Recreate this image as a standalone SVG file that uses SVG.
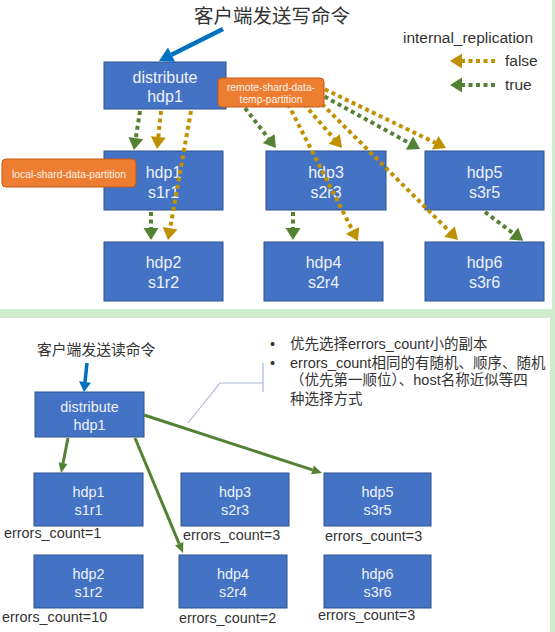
<svg xmlns="http://www.w3.org/2000/svg" width="555" height="632" viewBox="0 0 555 632">
<style>
.node rect{fill:#4472c4;stroke:#2f528f;stroke-width:1}
.node text{fill:#eef2fa;font-family:"Liberation Sans",Arial,sans-serif;text-anchor:middle}
.top text{font-size:16px}
.bot text{font-size:14.4px}
.dot{fill:none;stroke-width:4;stroke-dasharray:4 3.5}
.gold{stroke:#bf9000;marker-end:url(#hGold)}
.green{stroke:#548235;marker-end:url(#hGreen)}
.solid{fill:none;stroke:#548235;stroke-width:3;marker-end:url(#hSolid)}
.tag rect{fill:#ed7d31;stroke:#c55a11;stroke-width:1}
.tag text{fill:#fff3ea;font-family:"Liberation Sans",Arial,sans-serif;font-size:10.3px;text-anchor:middle}
.lbl{font-family:"Liberation Sans","Noto Sans CJK SC",sans-serif;fill:#333333}
.err{font-family:"Liberation Sans",Arial,sans-serif;font-size:14.4px;fill:#333333}
</style>
<defs>
<marker id="hGold" markerUnits="userSpaceOnUse" markerWidth="16" markerHeight="16" refX="0" refY="7.5" orient="auto" overflow="visible"><path d="M0,0 L12,7.5 L0,15 z" fill="#bf9000"/></marker>
<marker id="hGreen" markerUnits="userSpaceOnUse" markerWidth="16" markerHeight="16" refX="0" refY="7.5" orient="auto" overflow="visible"><path d="M0,0 L12,7.5 L0,15 z" fill="#548235"/></marker>
<marker id="hSolid" markerUnits="userSpaceOnUse" markerWidth="12" markerHeight="12" refX="0" refY="4.5" orient="auto" overflow="visible"><path d="M0,0 L10,4.5 L0,9 z" fill="#548235"/></marker>
<marker id="hBlue" markerUnits="userSpaceOnUse" markerWidth="16" markerHeight="16" refX="0" refY="8" orient="auto" overflow="visible"><path d="M0,0 L14,8 L0,16 z" fill="#0070c0"/></marker>
<marker id="hBlue2" markerUnits="userSpaceOnUse" markerWidth="12" markerHeight="12" refX="0" refY="6" orient="auto" overflow="visible"><path d="M0,0 L10,6 L0,12 z" fill="#0070c0"/></marker>
</defs>

<rect x="0" y="0" width="555" height="632" fill="#cfeccf"/>
<rect x="0" y="0" width="552" height="309" fill="#ffffff"/>
<rect x="0" y="318" width="550" height="314" fill="#ffffff"/>

<!-- top section texts -->
<text class="lbl" x="194" y="22.5" font-size="19.5">客户端发送写命令</text>
<g id="legend">
<text class="lbl" x="403" y="43" font-size="15.5">internal_replication</text>
<text class="lbl" x="505" y="66" font-size="15.5">false</text>
<text class="lbl" x="505" y="90" font-size="15.5">true</text>
<line class="dot gold" x1="495" y1="61" x2="462" y2="61"/>
<line class="dot green" x1="495" y1="85" x2="462" y2="85"/>
</g>

<!-- top nodes -->
<g id="w_distribute" class="node top"><rect x="104" y="62" width="122" height="47"/><text x="165" y="82.5">distribute</text><text x="165" y="101.5">hdp1</text></g>
<g id="w_hdp1" class="node top"><rect x="104" y="151" width="119" height="59"/><text x="163.5" y="177.5">hdp1</text><text x="163.5" y="197.5">s1r1</text></g>
<g id="w_hdp2" class="node top"><rect x="104" y="242" width="119" height="59"/><text x="163.5" y="267.5">hdp2</text><text x="163.5" y="287.5">s1r2</text></g>
<g id="w_hdp3" class="node top"><rect x="266" y="151" width="120" height="59"/><text x="326" y="177.5">hdp3</text><text x="326" y="197.5">s2r3</text></g>
<g id="w_hdp4" class="node top"><rect x="264" y="242" width="119" height="59"/><text x="323.5" y="267.5">hdp4</text><text x="323.5" y="287.5">s2r4</text></g>
<g id="w_hdp5" class="node top"><rect x="425" y="151" width="119" height="59"/><text x="484.5" y="177.5">hdp5</text><text x="484.5" y="197.5">s3r5</text></g>
<g id="w_hdp6" class="node top"><rect x="425" y="242" width="119" height="59"/><text x="484.5" y="267.5">hdp6</text><text x="484.5" y="287.5">s3r6</text></g>

<!-- bottom nodes -->
<text class="lbl" x="37" y="354.6" font-size="14.8">客户端发送读命令</text>
<g id="r_distribute" class="node bot"><rect x="35" y="392" width="109" height="45"/><text x="89.5" y="412">distribute</text><text x="89.5" y="430">hdp1</text></g>
<g id="r_hdp1" class="node bot"><rect x="34" y="473" width="109" height="53"/><text x="88.5" y="497">hdp1</text><text x="88.5" y="515">s1r1</text></g>
<g id="r_hdp2" class="node bot"><rect x="34" y="555" width="109" height="53"/><text x="88.5" y="579">hdp2</text><text x="88.5" y="597">s1r2</text></g>
<g id="r_hdp3" class="node bot"><rect x="181" y="473" width="108" height="53"/><text x="235" y="497">hdp3</text><text x="235" y="515">s2r3</text></g>
<g id="r_hdp4" class="node bot"><rect x="179" y="555" width="108" height="53"/><text x="233" y="579">hdp4</text><text x="233" y="597">s2r4</text></g>
<g id="r_hdp5" class="node bot"><rect x="324" y="473" width="107" height="53"/><text x="377.5" y="497">hdp5</text><text x="377.5" y="515">s3r5</text></g>
<g id="r_hdp6" class="node bot"><rect x="324" y="555" width="107" height="53"/><text x="377.5" y="579">hdp6</text><text x="377.5" y="597">s3r6</text></g>

<g id="errors">
<text class="err" x="4" y="538">errors_count=1</text>
<text class="err" x="183" y="540">errors_count=3</text>
<text class="err" x="325" y="541">errors_count=3</text>
<text class="err" x="2" y="622">errors_count=10</text>
<text class="err" x="179" y="623">errors_count=2</text>
<text class="err" x="318" y="620">errors_count=3</text>
</g>

<!-- connectors -->
<g id="connectors">
<line x1="223" y1="29" x2="171.5" y2="54.7" stroke="#0070c0" stroke-width="4.5" marker-end="url(#hBlue)"/>
<line class="dot green" x1="140" y1="111" x2="135.8" y2="138.1"/>
<line class="dot gold" x1="161" y1="111" x2="158.3" y2="137.1"/>
<line class="dot gold" x1="191" y1="111" x2="170.1" y2="228.2"/>
<line class="dot green" x1="151" y1="212" x2="151" y2="228"/>
<line class="dot green" x1="245" y1="108" x2="268.6" y2="138.5"/>
<line class="dot gold" x1="288" y1="104" x2="352.5" y2="230.3"/>
<line class="dot gold" x1="304" y1="104" x2="334.2" y2="138.9"/>
<line class="dot gold" x1="322" y1="104" x2="449.5" y2="231.5"/>
<line class="dot green" x1="318" y1="93" x2="409.5" y2="143.2"/>
<line class="dot gold" x1="318" y1="86" x2="435.2" y2="142.8"/>
<line class="dot green" x1="293" y1="212" x2="293" y2="228"/>
<line class="dot green" x1="485" y1="212" x2="513.6" y2="233.6"/>

<line x1="87" y1="363" x2="85" y2="382" stroke="#0070c0" stroke-width="3.5" marker-end="url(#hBlue2)"/>
<line class="solid" x1="68" y1="438" x2="63" y2="463.2"/>
<line class="solid" x1="135" y1="438" x2="179.2" y2="543.8"/>
<line class="solid" x1="144" y1="415" x2="312.5" y2="469.9"/>
</g>

<!-- orange tags -->
<g id="tag_remote" class="tag"><rect x="218" y="78" width="106" height="29" rx="4"/><text x="271" y="90.5">remote-shard-data-</text><text x="271" y="102.5">temp-partition</text></g>
<g id="tag_local" class="tag"><rect x="2" y="159" width="134" height="28" rx="4"/><text x="69" y="177.5">local-shard-data-partition</text></g>

<!-- callout -->
<g id="callout">
<polyline points="188,423 220,383 263,383" fill="none" stroke="#a9b8d4" stroke-width="1.2"/>
<line x1="263" y1="363" x2="263" y2="392" stroke="#a9b8d4" stroke-width="1.2"/>
<text class="lbl" font-size="14.5"><tspan x="270" y="348.5">•</tspan><tspan x="290" y="348.5">优先选择errors_count小的副本</tspan></text>
<text class="lbl" font-size="14.5"><tspan x="270" y="367.5">•</tspan><tspan x="290" y="367.5">errors_count相同的有随机、顺序、随机</tspan></text>
<text class="lbl" x="290" y="384.5" font-size="14.5">（优先第一顺位）、host名称近似等四</text>
<text class="lbl" x="290" y="403.5" font-size="14.5">种选择方式</text>
</g>
</svg>
